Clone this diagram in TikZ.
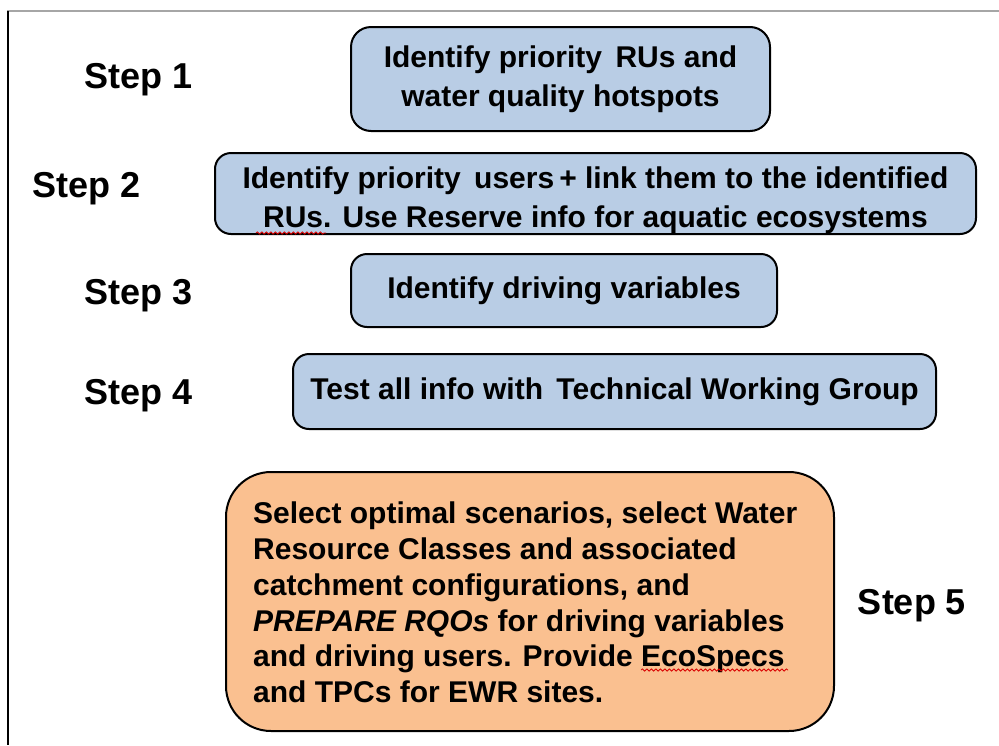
\documentclass[tikz,border=0pt]{standalone}
\usepackage{fontspec}
\setmainfont{Liberation Sans}
\usepackage{xcolor}
\usetikzlibrary{decorations.pathmorphing}

\definecolor{boxblue}{HTML}{B9CDE5}
\definecolor{boxorange}{HTML}{FAC090}

\begin{document}
\begin{tikzpicture}[
    x=1pt, y=-1pt,
    every node/.style={font=\bfseries},
    bluebox/.style={draw=black, line width=2pt, fill=boxblue, rounded corners=16pt,
        align=center, inner sep=0pt, font=\bfseries\fontsize{30}{38.5}\selectfont},
    orangebox/.style={draw=black, line width=2pt, fill=boxorange, rounded corners=45pt},
    steplabel/.style={anchor=base, font=\bfseries\fontsize{36}{40}\selectfont},
    wavy/.style={draw=red!85!black, line width=0.8pt,
        decorate, decoration={snake, amplitude=1.1pt, segment length=4.5pt}},
]
\useasboundingbox (0,0) rectangle (999,745);

% Rahmen
\draw[gray!70, line width=1.5pt] (7,11) -- (999,11);
\draw[black, line width=2pt] (7.5,11) -- (7.5,745);

% Schritte
\node[steplabel] (s1) at (138.5,88) {Step 1};
\node[steplabel] (s2) at (86.5,197) {Step 2};
\node[steplabel] (s3) at (139,304) {Step 3};
\node[steplabel] (s4) at (139,404) {Step 4};
\node[steplabel] (s5) at (912,614) {Step 5};

% Kästen
\node[bluebox, rounded corners=20pt, minimum width=419pt, minimum height=104pt]
    (b1) at (560.5,79) {Identify priority\, RUs and\\water quality hotspots};
\node[bluebox, minimum width=761pt, minimum height=81pt]
    (b2) at (595.5,193.5) {\rule{0pt}{35pt}Identify priority\, users\,+ link them to the identified\\RUs. Use Reserve info for aquatic ecosystems};
\node[bluebox, minimum width=426pt, minimum height=73pt]
    (b3) at (564,290.5) {Identify driving variables};
\node[bluebox, minimum width=643pt, minimum height=75pt]
    (b4) at (614.5,391.5) {Test all info with\, Technical Working Group};
\node[orangebox, minimum width=608pt, minimum height=259pt] (b5) at (530,601.5) {};
\node[anchor=west, align=left, inner sep=0pt, font=\bfseries\fontsize{30}{35.8}\selectfont]
    (t5) at (253,602.5) {Select optimal scenarios, select Water\\
    Resource Classes and associated\\
    catchment configurations, and\\
    \textit{PREPARE RQOs} for driving variables\\
    and driving users. Provide EcoSpecs\\
    and TPCs for EWR sites.};

% Rechtschreibmarken
\coordinate (w1a) at (256,233);
\coordinate (w1b) at (326,233);
\coordinate (w2a) at (641,670);
\coordinate (w2b) at (788,670);
\draw[wavy] (w1a) -- (w1b);
\draw[wavy] (w2a) -- (w2b);

\end{tikzpicture}
\end{document}
